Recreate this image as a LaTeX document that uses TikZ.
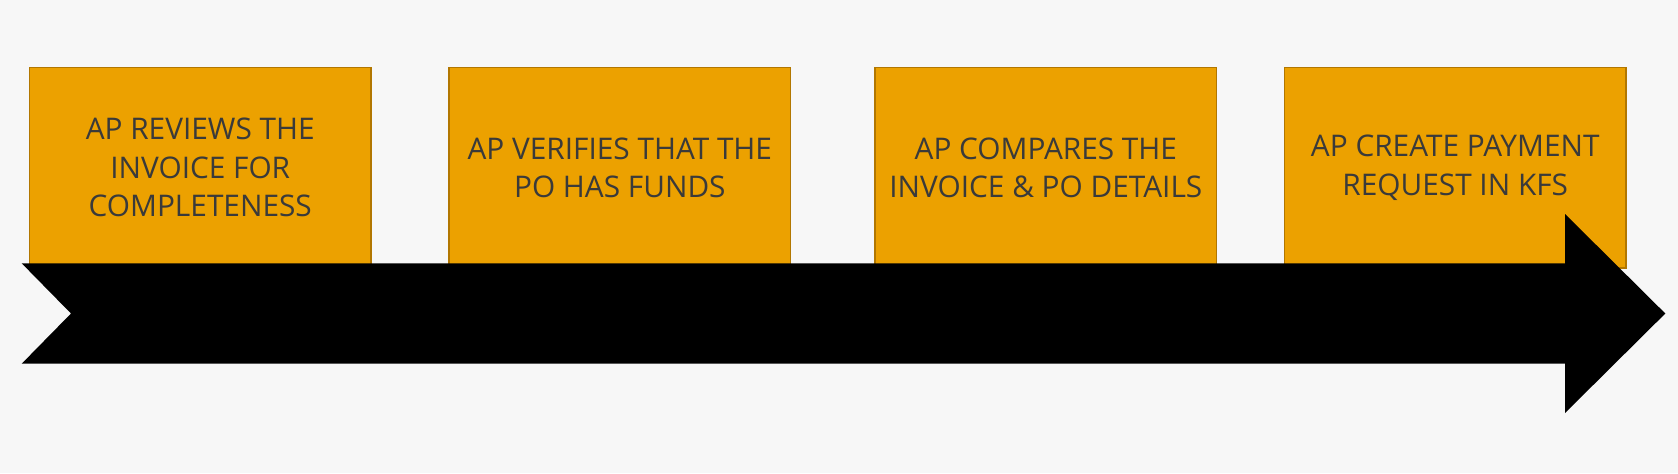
\documentclass[tikz,border=0pt]{standalone}
\usepackage{fontspec}
\setmainfont{Open Sans}
\usetikzlibrary{positioning}
\definecolor{bgcol}{HTML}{F7F7F7}
\definecolor{stepfill}{HTML}{ECA100}
\definecolor{stepline}{HTML}{B27700}
\definecolor{steptext}{HTML}{3A3A3A}
\tikzset{
    stepbox/.style={draw=stepline, fill=stepfill, line width=0.75pt, anchor=north west,
        minimum width=170.8pt, minimum height=100.2pt, inner sep=0pt,
        text=steptext, align=center, font=\fontsize{14.9}{19.2}\selectfont}
}
\begin{document}
\begin{tikzpicture}[x=0.5pt, y=-0.5pt]
        \fill[bgcol] (0,0) rectangle (1678,473);
        \foreach \x/\n/\t in {28.7/s1/{AP REVIEWS THE\\INVOICE FOR\\COMPLETENESS},
                448.3/s2/{AP VERIFIES THAT THE\\PO HAS FUNDS},
                874.3/s3/{AP COMPARES THE\\INVOICE \& PO DETAILS},
                1283.7/s4/{AP CREATE PAYMENT\\REQUEST IN KFS}} {
                \node[stepbox] (\n) at (\x,66.7) {\t};
            }
        % timeline arrow
        \coordinate (tail) at (21.7,263.3);
        \coordinate (notch) at (71,313.5);
        \coordinate (tip) at (1665.3,313.5);
        \fill[black] (tail) -- (1565,263.3) -- (1565,214) -- (tip) -- (1565,413)
                -- (1565,363.7) -- (21.7,363.7) -- (notch) -- cycle;
    \end{tikzpicture}
\end{document}
